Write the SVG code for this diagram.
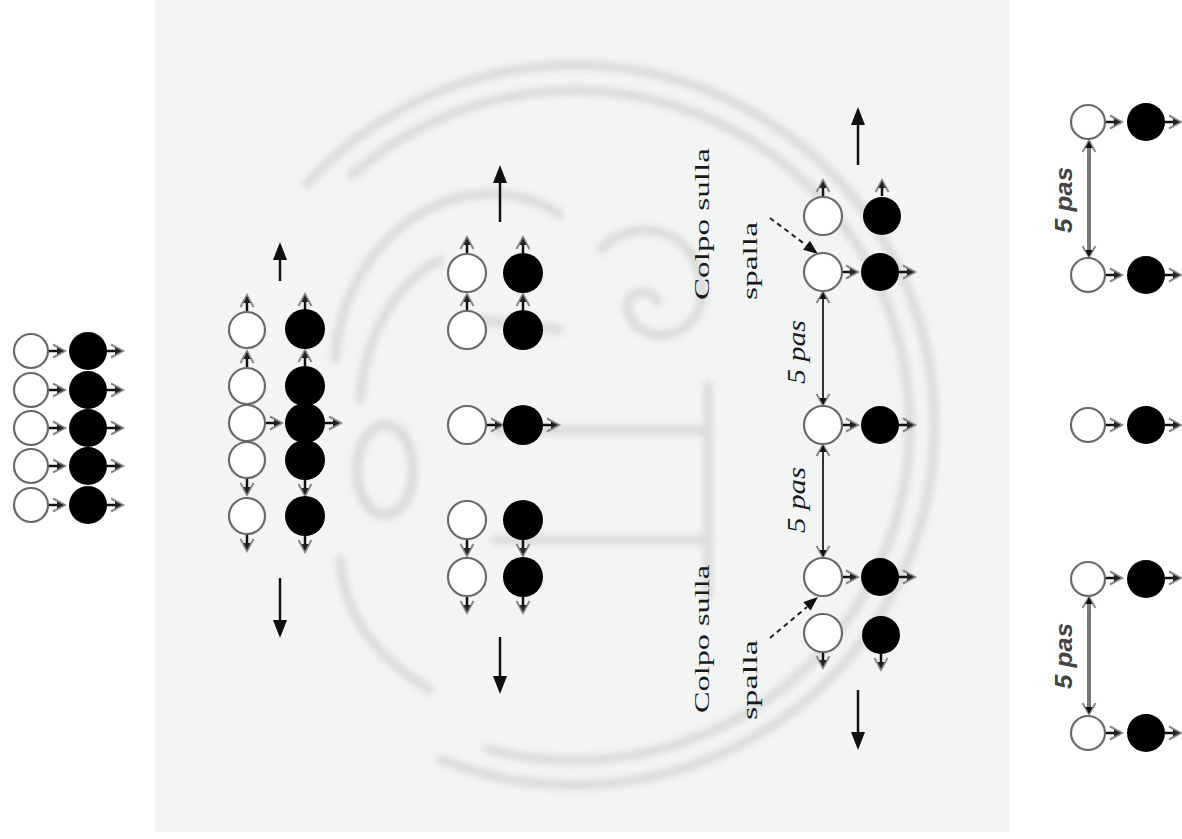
<svg xmlns="http://www.w3.org/2000/svg" xmlns:xlink="http://www.w3.org/1999/xlink" width="1182" height="839" viewBox="0 0 1182 839">
<style>
.w{fill:#fff;stroke:#6a6a6a;stroke-width:2.2}
.b{fill:#000}
.big{stroke:#111;stroke-width:2.5;fill:none}
.cs{font-family:"Liberation Serif",serif;font-size:22px;fill:#1a1a1a}
.ps{font-family:"Liberation Serif",serif;font-style:italic;font-size:26px;fill:#1a1a1a}
.pr{font-family:"Liberation Sans",sans-serif;font-style:italic;font-weight:bold;font-size:24px;fill:#444}
.bg{fill:none;stroke:#d4d4d4;stroke-width:9;stroke-linecap:round}
</style>
<defs>
<filter id="blur" x="-10%" y="-10%" width="120%" height="120%"><feGaussianBlur stdDeviation="3.5"/></filter>
<g id="sa"><line x1="0" y1="0" x2="12" y2="0" stroke="#111" stroke-width="2.5"/><path d="M4,-6.5 L16,0 L4,6.5" fill="none" stroke="#888" stroke-width="2"/><path d="M8,-3.5 L15,0 L8,3.5 Z" fill="#222"/></g>
<g id="hd"><path d="M-11,-6.5 L0,0 L-11,6.5" fill="none" stroke="#888" stroke-width="2"/><path d="M-7,-3.5 L0,0 L-7,3.5 Z" fill="#111"/></g>
<g id="bh"><polygon points="0,0 -18,-7 -18,7" fill="#111"/></g>
</defs>
<rect x="155" y="0" width="855" height="832" fill="#f3f5f5"/>
<g id="coin" filter="url(#blur)" opacity="0.85">
<path class="bg" d="M307,184 A360,360 0 1 1 440,759"/>
<path class="bg" d="M351,176 A335,335 0 1 1 488,749" stroke-width="7"/>
<path class="bg" d="M335,360 C340,280 390,220 450,200 C500,185 540,200 560,215"/>
<path class="bg" d="M360,400 C365,330 400,280 440,260"/>
<path class="bg" d="M600,250 C630,215 700,225 702,290 C704,340 640,350 628,312 C622,292 650,284 658,302"/>
<path class="bg" d="M495,430 L705,430 M495,540 L705,540 M708,385 L708,595 M480,320 L560,330"/>
<ellipse cx="385" cy="470" rx="28" ry="45" fill="none" stroke="#d4d4d4" stroke-width="10"/>
<path class="bg" d="M340,560 C345,620 380,660 430,690"/>
</g>
<g id="connectors">
<use href="#sa" x="49" y="351"/><use href="#sa" x="107" y="351"/>
<use href="#sa" x="49" y="390"/><use href="#sa" x="107" y="390"/>
<use href="#sa" x="49" y="428"/><use href="#sa" x="107" y="428"/>
<use href="#sa" x="49" y="466"/><use href="#sa" x="107" y="466"/>
<use href="#sa" x="49" y="505"/><use href="#sa" x="107" y="505"/>
<use href="#sa" transform="translate(247,311) rotate(-90)"/><use href="#sa" transform="translate(305,310) rotate(-90)"/>
<use href="#sa" transform="translate(247,367) rotate(-90)"/><use href="#sa" transform="translate(305,366) rotate(-90)"/>
<use href="#sa" x="266" y="423"/><use href="#sa" x="325" y="423"/>
<use href="#sa" transform="translate(247,479) rotate(90)"/><use href="#sa" transform="translate(305,480) rotate(90)"/>
<use href="#sa" transform="translate(247,535) rotate(90)"/><use href="#sa" transform="translate(305,536) rotate(90)"/>
<line class="big" x1="280" y1="281" x2="280" y2="258"/><use href="#bh" transform="translate(280,242) rotate(-90)"/>
<line class="big" x1="280" y1="578" x2="280" y2="622"/><use href="#bh" transform="translate(280,638) rotate(90)"/>
<use href="#sa" transform="translate(467,253) rotate(-90)"/><use href="#sa" transform="translate(523,253) rotate(-90)"/>
<use href="#sa" transform="translate(467,310) rotate(-90)"/><use href="#sa" transform="translate(523,310) rotate(-90)"/>
<use href="#sa" x="487" y="425"/><use href="#sa" x="543" y="425"/>
<use href="#sa" transform="translate(467,540) rotate(90)"/><use href="#sa" transform="translate(523,540) rotate(90)"/>
<use href="#sa" transform="translate(467,597) rotate(90)"/><use href="#sa" transform="translate(523,597) rotate(90)"/>
<line class="big" x1="500" y1="222" x2="500" y2="182"/><use href="#bh" transform="translate(500,165) rotate(-90)"/>
<line class="big" x1="500" y1="637" x2="500" y2="678"/><use href="#bh" transform="translate(500,694) rotate(90)"/>
<use href="#sa" transform="translate(823,196) rotate(-90)"/><use href="#sa" transform="translate(882,196) rotate(-90)"/>
<use href="#sa" x="842" y="272"/><use href="#sa" x="899" y="272"/>
<use href="#sa" x="842" y="425"/><use href="#sa" x="899" y="425"/>
<use href="#sa" x="842" y="577"/><use href="#sa" x="899" y="577"/>
<use href="#sa" transform="translate(823,652) rotate(90)"/><use href="#sa" transform="translate(881,654) rotate(90)"/>
<line x1="823" y1="292" x2="823" y2="405" stroke="#333" stroke-width="2"/>
<use href="#hd" transform="translate(823,292) rotate(-90)"/><use href="#hd" transform="translate(823,405) rotate(90)"/>
<line x1="823" y1="445" x2="823" y2="557" stroke="#333" stroke-width="2"/>
<use href="#hd" transform="translate(823,445) rotate(-90)"/><use href="#hd" transform="translate(823,557) rotate(90)"/>
<line class="big" x1="858" y1="165" x2="858" y2="124"/><use href="#bh" transform="translate(858,107) rotate(-90)"/>
<line class="big" x1="858" y1="690" x2="858" y2="734"/><use href="#bh" transform="translate(858,750) rotate(90)"/>
<line x1="770" y1="218" x2="806" y2="245" stroke="#222" stroke-width="2" stroke-dasharray="5,4"/>
<use href="#bh" transform="translate(818,254) rotate(37) scale(0.8)"/>
<line x1="770" y1="638" x2="807" y2="607" stroke="#222" stroke-width="2" stroke-dasharray="5,4"/>
<use href="#bh" transform="translate(818,597) rotate(-40) scale(0.8)"/>
<use href="#sa" x="1106" y="122"/><use href="#sa" x="1165" y="122"/>
<use href="#sa" x="1106" y="275"/><use href="#sa" x="1165" y="275"/>
<use href="#sa" x="1106" y="425"/><use href="#sa" x="1165" y="425"/>
<use href="#sa" x="1106" y="578"/><use href="#sa" x="1165" y="578"/>
<use href="#sa" x="1106" y="733"/><use href="#sa" x="1165" y="733"/>
<line x1="1089" y1="141" x2="1089" y2="256" stroke="#777" stroke-width="4"/>
<use href="#hd" transform="translate(1089,141) rotate(-90)"/><use href="#hd" transform="translate(1089,257) rotate(90)"/>
<line x1="1089" y1="598" x2="1089" y2="713" stroke="#777" stroke-width="4"/>
<use href="#hd" transform="translate(1089,597) rotate(-90)"/><use href="#hd" transform="translate(1089,714) rotate(90)"/>
</g>
<g id="group1">
<circle class="w" cx="31" cy="351" r="17"/><circle class="b" cx="88" cy="351" r="19"/>
<circle class="w" cx="31" cy="390" r="17"/><circle class="b" cx="88" cy="390" r="19"/>
<circle class="w" cx="31" cy="428" r="17"/><circle class="b" cx="88" cy="428" r="19"/>
<circle class="w" cx="31" cy="466" r="17"/><circle class="b" cx="88" cy="466" r="19"/>
<circle class="w" cx="31" cy="505" r="17"/><circle class="b" cx="88" cy="505" r="19"/>
</g>
<g id="group2">
<circle class="w" cx="247" cy="330" r="18"/><circle class="b" cx="305" cy="329" r="20"/>
<circle class="w" cx="247" cy="386" r="18"/><circle class="b" cx="305" cy="386" r="20"/>
<circle class="w" cx="247" cy="423" r="18"/><circle class="b" cx="305" cy="423" r="20"/>
<circle class="w" cx="247" cy="460" r="18"/><circle class="b" cx="305" cy="460" r="20"/>
<circle class="w" cx="247" cy="516" r="18"/><circle class="b" cx="305" cy="516" r="20"/>
</g>
<g id="group3">
<circle class="w" cx="467" cy="273" r="19"/><circle class="b" cx="523" cy="273" r="20"/>
<circle class="w" cx="467" cy="330" r="19"/><circle class="b" cx="523" cy="330" r="20"/>
<circle class="w" cx="467" cy="425" r="19"/><circle class="b" cx="523" cy="425" r="20"/>
<circle class="w" cx="467" cy="520" r="19"/><circle class="b" cx="523" cy="520" r="20"/>
<circle class="w" cx="467" cy="577" r="19"/><circle class="b" cx="523" cy="577" r="20"/>
</g>
<g id="group4">
<circle class="w" cx="823" cy="216" r="19"/><circle class="b" cx="882" cy="216" r="19"/>
<circle class="w" cx="823" cy="272" r="19"/><circle class="b" cx="880" cy="272" r="19"/>
<circle class="w" cx="823" cy="425" r="19"/><circle class="b" cx="880" cy="425" r="19"/>
<circle class="w" cx="823" cy="577" r="19"/><circle class="b" cx="880" cy="577" r="19"/>
<circle class="w" cx="823" cy="633" r="19"/><circle class="b" cx="881" cy="635" r="19"/>
</g>
<g id="group5">
<circle class="w" cx="1088" cy="122" r="17"/><circle class="b" cx="1146" cy="122" r="19"/>
<circle class="w" cx="1088" cy="275" r="17"/><circle class="b" cx="1146" cy="275" r="19"/>
<circle class="w" cx="1088" cy="425" r="17"/><circle class="b" cx="1146" cy="425" r="19"/>
<circle class="w" cx="1088" cy="579" r="17"/><circle class="b" cx="1146" cy="579" r="19"/>
<circle class="w" cx="1088" cy="733" r="17"/><circle class="b" cx="1146" cy="733" r="19"/>
</g>
<g id="labels">
<text class="cs" transform="translate(709,300) rotate(-90)" textLength="152" lengthAdjust="spacingAndGlyphs">Colpo sulla</text>
<text class="cs" transform="translate(757,300) rotate(-90)" textLength="78" lengthAdjust="spacingAndGlyphs">spalla</text>
<text class="cs" transform="translate(709,713) rotate(-90)" textLength="148" lengthAdjust="spacingAndGlyphs">Colpo sulla</text>
<text class="cs" transform="translate(757,720) rotate(-90)" textLength="80" lengthAdjust="spacingAndGlyphs">spalla</text>
<text class="ps" transform="translate(805,384) rotate(-90)" textLength="64" lengthAdjust="spacingAndGlyphs">5 pas</text>
<text class="ps" transform="translate(805,533) rotate(-90)" textLength="66" lengthAdjust="spacingAndGlyphs">5 pas</text>
<text class="pr" transform="translate(1072,233) rotate(-90)" textLength="66" lengthAdjust="spacingAndGlyphs">5 pas</text>
<text class="pr" transform="translate(1072,689) rotate(-90)" textLength="66" lengthAdjust="spacingAndGlyphs">5 pas</text>
</g>
</svg>
